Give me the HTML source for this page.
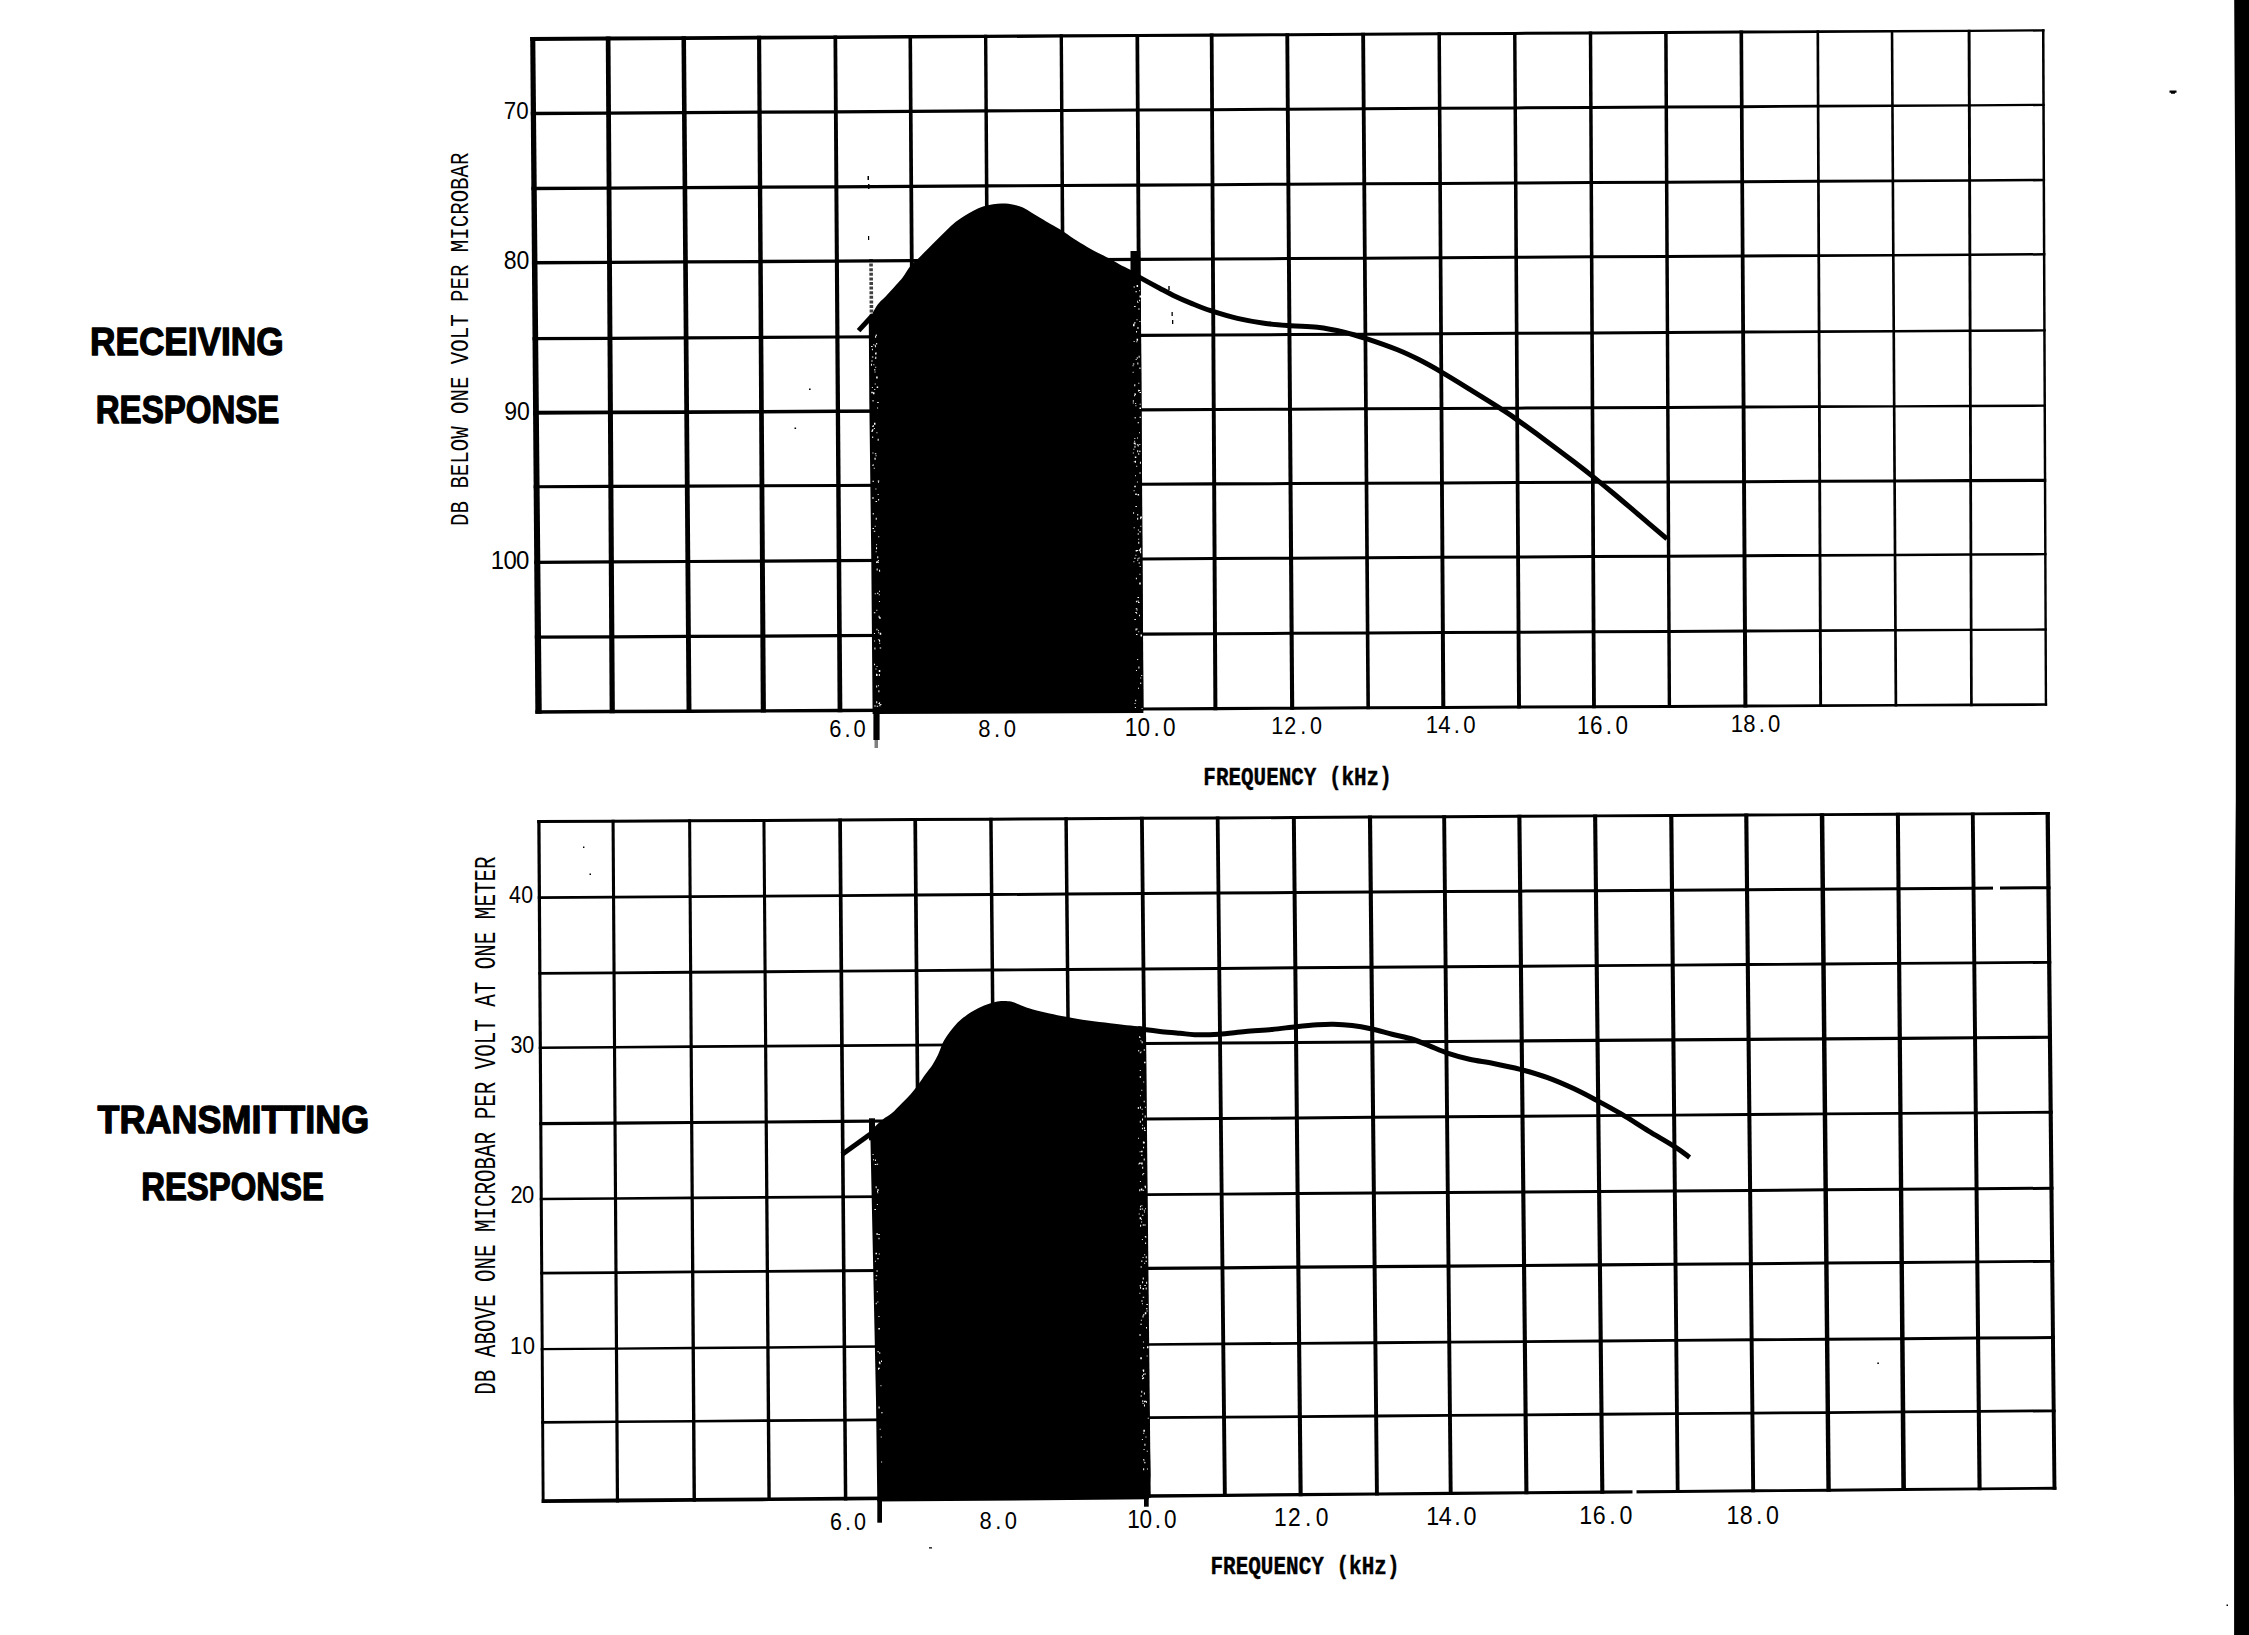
<!DOCTYPE html>
<html lang="en"><head><meta charset="utf-8"><title>Receiving and Transmitting Response</title>
<style>html,body{margin:0;padding:0;background:#fff;overflow:hidden}svg{display:block}text{fill:#000}</style>
</head><body>
<svg width="2249" height="1635" viewBox="0 0 2249 1635" role="img" aria-label="Receiving and transmitting response curves">
<rect x="0" y="0" width="2249" height="1635" fill="#fff"/>
<polygon id="edge-bar" fill="#000" points="2234.2,0 2235.3,200 2235.8,400 2235.8,800 2234.2,1000 2233.5,1200 2233.5,1400 2234.1,1500 2234.1,1635 2249,1635 2249,0"/>
<g id="grid-top" fill="#000" stroke="none">
<polygon points="530.2,36.91 535.28,36.91 541.75,713.76 535.37,713.76"/>
<polygon points="605.76,36.51 610.47,36.51 614.87,713.37 609.64,713.37"/>
<polygon points="681.45,36.14 685.99,36.14 691.49,712.96 686.56,712.96"/>
<polygon points="757.02,35.77 761.15,35.77 765.94,712.57 760.78,712.57"/>
<polygon points="833.46,35.39 837.18,35.39 842.36,712.16 837.6,712.16"/>
<polygon points="908.45,35.02 912.02,35.02 916.94,711.76 912.6,711.76"/>
<polygon points="983.98,34.65 987.33,34.65 992.19,711.35 987.93,711.35"/>
<polygon points="1059.6,34.28 1062.95,34.28 1067.68,710.95 1063.42,710.95"/>
<polygon points="1135.44,33.9 1139.15,33.9 1143.55,710.54 1139.32,710.54"/>
<polygon points="1209.78,33.54 1213.54,33.54 1217.42,710.15 1213.41,710.15"/>
<polygon points="1285.33,33.16 1289.18,33.16 1294.24,709.74 1290.12,709.74"/>
<polygon points="1361.21,32.74 1365.05,32.74 1369.98,709.36 1366.39,709.36"/>
<polygon points="1437.43,32.31 1440.94,32.31 1445.35,708.99 1441.32,708.99"/>
<polygon points="1513.05,31.89 1516.47,31.89 1521,708.62 1517.07,708.62"/>
<polygon points="1588.78,31.46 1592.21,31.46 1595.9,708.25 1592.08,708.25"/>
<polygon points="1664.13,31.04 1667.65,31.04 1671.09,707.88 1667.69,707.88"/>
<polygon points="1739.46,30.61 1743.09,30.61 1747.43,707.5 1743.41,707.5"/>
<polygon points="1816.47,30.35 1819.13,30.35 1822.11,707.04 1819.19,707.04"/>
<polygon points="1890.73,30.1 1893.3,30.1 1897.26,706.57 1894.55,706.57"/>
<polygon points="1967.61,29.68 1970.56,29.68 1972.76,706.19 1970.08,706.19"/>
<polygon points="2041.96,29.26 2044.48,29.26 2047.14,705.82 2044.74,705.82"/>
<polygon points="530.2,36.91 608.11,36.51 683.72,36.14 759.09,35.77 835.32,35.39 910.24,35.02 985.66,34.65 1061.28,34.28 1137.3,33.9 1211.66,33.54 1287.26,33.16 1363.13,32.74 1439.18,32.31 1514.76,31.89 1590.49,31.46 1665.89,31.04 1741.27,30.61 1817.8,30.35 1892.01,30.1 1969.09,29.68 2044.48,29.26 2044.48,31.56 1969.09,31.98 1892.01,32.43 1817.8,33.02 1741.27,33.61 1665.89,34.04 1590.49,34.46 1514.76,34.89 1439.18,35.31 1363.13,35.74 1287.26,36.17 1211.66,36.65 1137.3,37.12 1061.28,37.6 985.66,38.07 910.24,38.55 835.32,39.02 759.09,39.51 683.72,39.98 608.11,40.46 530.2,40.91"/>
<polygon points="530.77,111.86 608.57,111.44 684.31,111.02 759.56,110.61 835.84,110.19 910.74,109.78 986.14,109.37 1061.75,108.95 1137.75,108.54 1212.07,108.13 1287.8,107.71 1363.69,107.28 1439.64,106.85 1515.23,106.42 1590.88,105.99 1666.28,105.56 1741.73,105.13 1818.11,104.86 1892.44,104.6 1969.35,104.18 2044.77,103.76 2044.77,106.06 1969.35,106.48 1892.44,106.94 1818.11,107.53 1741.73,108.13 1666.28,108.56 1590.88,108.99 1515.23,109.42 1439.64,109.85 1363.69,110.28 1287.8,110.71 1212.07,111.16 1137.75,111.6 1061.75,112.05 986.14,112.49 910.74,112.94 835.84,113.38 759.56,113.83 684.31,114.28 608.57,114.72 530.77,115.16"/>
<polygon points="531.35,186.8 609.03,186.39 684.9,185.99 760.04,185.58 836.35,185.18 911.24,184.78 986.64,184.37 1062.23,183.97 1138.22,183.56 1212.49,183.16 1288.35,182.76 1364.25,182.33 1440.11,181.91 1515.71,181.48 1591.27,181.06 1666.67,180.63 1742.2,180.21 1818.43,179.87 1892.88,179.55 1969.61,179.13 2045.07,178.71 2045.07,181.31 1969.61,181.73 1892.88,182.17 1818.43,182.68 1742.2,183.21 1666.67,183.63 1591.27,184.06 1515.71,184.48 1440.11,184.91 1364.25,185.33 1288.35,185.76 1212.49,186.21 1138.22,186.65 1062.23,187.09 986.64,187.54 911.24,187.99 836.35,188.43 760.04,188.88 684.9,189.32 609.03,189.77 531.35,190.2"/>
<polygon points="531.92,261.1 609.49,260.69 685.48,260.28 760.51,259.88 836.87,259.47 911.74,259.07 987.12,258.67 1062.7,258.27 1138.67,257.86 1212.91,257.46 1288.89,257.06 1364.81,256.63 1440.56,256.2 1516.18,255.78 1591.65,255.35 1667.05,254.93 1742.65,254.5 1818.75,254.19 1893.31,253.9 1969.86,253.48 2045.36,253.06 2045.36,255.56 1969.86,255.98 1893.31,256.42 1818.75,256.96 1742.65,257.5 1667.05,257.93 1591.65,258.35 1516.18,258.78 1440.56,259.2 1364.81,259.63 1288.89,260.06 1212.91,260.51 1138.67,260.94 1062.7,261.39 987.12,261.84 911.74,262.28 836.87,262.72 760.51,263.18 685.48,263.62 609.49,264.07 531.92,264.5"/>
<polygon points="532.5,337.09 609.96,336.69 686.08,336.28 760.99,335.88 837.39,335.47 912.26,335.07 987.62,334.67 1063.18,334.26 1139.14,333.86 1213.33,333.46 1289.45,333.05 1365.38,332.64 1441.03,332.22 1516.66,331.81 1592.05,331.39 1667.45,330.98 1743.12,330.56 1819.07,330.29 1893.75,330.03 1970.13,329.62 2045.66,329.21 2045.66,331.61 1970.13,332.02 1893.75,332.45 1819.07,333 1743.12,333.56 1667.45,333.98 1592.05,334.39 1516.66,334.81 1441.03,335.22 1365.38,335.64 1289.45,336.05 1213.33,336.48 1139.14,336.9 1063.18,337.33 987.62,337.75 912.26,338.17 837.39,338.6 760.99,339.03 686.08,339.45 609.96,339.88 532.5,340.29"/>
<polygon points="533.07,410.86 610.41,410.53 686.67,410.21 761.46,409.9 837.91,409.58 912.76,409.27 988.1,408.96 1063.65,408.64 1139.6,408.33 1213.75,408.02 1289.99,407.7 1365.94,407.34 1441.49,406.98 1517.14,406.63 1592.44,406.27 1667.84,405.92 1743.58,405.56 1819.39,405.34 1894.18,405.14 1970.39,404.79 2045.96,404.44 2045.96,406.84 1970.39,407.19 1894.18,407.56 1819.39,408.06 1743.58,408.56 1667.84,408.92 1592.44,409.27 1517.14,409.63 1441.49,409.98 1365.94,410.34 1289.99,410.7 1213.75,411.1 1139.6,411.49 1063.65,411.89 988.1,412.29 912.76,412.69 837.91,413.09 761.46,413.49 686.67,413.88 610.41,414.29 533.07,414.66"/>
<polygon points="533.64,485.14 610.87,484.83 687.25,484.52 761.93,484.21 838.42,483.9 913.26,483.59 988.59,483.28 1064.12,482.98 1140.06,482.66 1214.16,482.36 1290.54,482.05 1366.5,481.73 1441.95,481.41 1517.61,481.09 1592.83,480.77 1668.22,480.45 1744.04,480.13 1819.7,479.76 1894.61,479.39 1970.64,479.07 2046.25,478.75 2046.25,481.95 1970.64,482.27 1894.61,482.59 1819.7,482.85 1744.04,483.13 1668.22,483.45 1592.83,483.77 1517.61,484.09 1441.95,484.41 1366.5,484.73 1290.54,485.05 1214.16,485.38 1140.06,485.71 1064.12,486.04 988.59,486.37 913.26,486.7 838.42,487.03 761.93,487.36 687.25,487.69 610.87,488.02 533.64,488.34"/>
<polygon points="534.22,560.68 611.33,560.28 687.84,559.88 762.41,559.48 838.94,559.08 913.76,558.69 989.08,558.29 1064.6,557.89 1140.52,557.49 1214.58,557.1 1291.08,556.69 1367.06,556.28 1442.41,555.87 1518.08,555.46 1593.21,555.06 1668.61,554.65 1744.5,554.24 1820.01,553.97 1895.04,553.71 1970.9,553.31 2046.54,552.91 2046.54,555.31 1970.9,555.71 1895.04,556.13 1820.01,556.68 1744.5,557.24 1668.61,557.65 1593.21,558.06 1518.08,558.46 1442.41,558.87 1367.06,559.28 1291.08,559.69 1214.58,560.12 1140.52,560.53 1064.6,560.95 989.08,561.37 913.76,561.79 838.94,562.21 762.41,562.63 687.84,563.05 611.33,563.47 534.22,563.88"/>
<polygon points="534.8,635.51 611.8,635.15 688.44,634.77 762.88,634.41 839.46,634.04 914.27,633.68 989.57,633.31 1065.07,632.94 1140.98,632.57 1215,632.21 1291.63,631.84 1367.62,631.46 1442.87,631.08 1518.56,630.69 1593.6,630.31 1669,629.93 1744.96,629.54 1820.33,629.31 1895.47,629.07 1971.16,628.7 2046.84,628.32 2046.84,630.72 1971.16,631.1 1895.47,631.49 1820.33,632.02 1744.96,632.54 1669,632.93 1593.6,633.31 1518.56,633.69 1442.87,634.08 1367.62,634.46 1291.63,634.84 1215,635.25 1140.98,635.64 1065.07,636.04 989.57,636.44 914.27,636.83 839.46,637.23 762.88,637.63 688.44,638.02 611.8,638.43 534.8,638.81"/>
<polygon points="535.37,710.16 612.26,709.81 689.02,709.46 763.36,709.13 839.98,708.78 914.77,708.44 990.06,708.1 1065.55,707.76 1141.44,707.42 1215.42,707.09 1292.18,706.74 1368.18,706.36 1443.33,705.99 1519.04,705.62 1593.99,705.25 1669.39,704.88 1745.42,704.51 1820.65,704.23 1895.9,703.96 1971.42,703.59 2047.14,703.22 2047.14,705.82 1971.42,706.19 1895.9,706.57 1820.65,707.04 1745.42,707.5 1669.39,707.88 1593.99,708.25 1519.04,708.62 1443.33,708.99 1368.18,709.36 1292.18,709.74 1215.42,710.15 1141.44,710.54 1065.55,710.95 990.06,711.35 914.77,711.76 839.98,712.16 763.36,712.57 689.02,712.96 612.26,713.37 535.37,713.76"/>
</g>
<g id="grid-bottom" fill="#000" stroke="none">
<polygon points="537.25,820.1 540.52,820.1 544.6,1503.12 541.72,1503.12"/>
<polygon points="611.52,819.69 614.6,819.69 619.07,1502.47 615.86,1502.47"/>
<polygon points="688.1,819.28 691.13,819.28 695.98,1501.77 692.56,1501.77"/>
<polygon points="762.41,818.88 765.44,818.88 770.81,1501.09 767.39,1501.09"/>
<polygon points="838.19,818.46 841.93,818.46 847.36,1500.4 843.87,1500.4"/>
<polygon points="913.33,818.06 917.05,818.06 922.93,1499.72 919.34,1499.72"/>
<polygon points="989.18,817.65 992.66,817.65 999.05,1499.03 995.44,1499.03"/>
<polygon points="1064.33,817.24 1067.81,817.24 1074.46,1498.34 1070.85,1498.34"/>
<polygon points="1139.99,816.83 1143.81,816.83 1150.72,1497.65 1147.02,1497.65"/>
<polygon points="1215.76,816.42 1219.54,816.42 1226.83,1496.96 1222.92,1496.96"/>
<polygon points="1291.83,816.01 1295.8,816.01 1302.7,1496.29 1298.6,1496.29"/>
<polygon points="1367.91,815.61 1372.06,815.61 1378.89,1495.62 1375.01,1495.62"/>
<polygon points="1442.2,815.22 1446.1,815.22 1452.67,1494.97 1448.77,1494.97"/>
<polygon points="1517.31,814.82 1521.41,814.82 1528.49,1494.3 1524.39,1494.3"/>
<polygon points="1593.08,814.42 1597.18,814.42 1604.39,1493.63 1600.29,1493.63"/>
<polygon points="1669.18,814.02 1673.35,814.02 1679.59,1492.97 1675.81,1492.97"/>
<polygon points="1744.19,813.62 1748.34,813.62 1755.16,1492.3 1751.27,1492.3"/>
<polygon points="1819.77,813.22 1824.29,813.22 1830.79,1491.64 1826.4,1491.64"/>
<polygon points="1895.87,812.82 1899.86,812.82 1905.97,1490.98 1901.34,1490.98"/>
<polygon points="1970.85,812.42 1974.7,812.42 1981.65,1490.31 1977.54,1490.31"/>
<polygon points="2045.54,812.02 2049.81,812.02 2056.43,1489.66 2052.54,1489.66"/>
<polygon points="537.25,820.1 613.06,819.69 689.62,819.28 763.93,818.88 840.06,818.46 915.19,818.06 990.92,817.65 1066.07,817.24 1141.9,816.83 1217.65,816.42 1293.81,816.01 1369.99,815.61 1444.15,815.22 1519.36,814.82 1595.13,814.42 1671.26,814.02 1746.27,813.62 1822.03,813.22 1897.86,812.82 1972.78,812.42 2049.81,812.02 2049.81,814.82 1972.78,815.23 1897.86,815.65 1822.03,816.07 1746.27,816.49 1671.26,816.91 1595.13,817.33 1519.36,817.75 1444.15,818.17 1369.99,818.58 1293.81,819 1217.65,819.42 1141.9,819.83 1066.07,820.24 990.92,820.65 915.19,821.06 840.06,821.46 763.93,821.88 689.62,822.28 613.06,822.69 537.25,823.1"/>
<polygon points="537.75,896.13 613.55,895.64 690.14,895.13 764.5,894.64 840.68,894.13 915.85,893.62 991.62,893.12 1066.8,892.62 1142.67,892.11 1218.45,891.61 1294.57,891.1 1370.76,890.61 1444.88,890.12 1520.14,889.63 1595.93,889.14 1671.97,888.64 1747.03,888.15 1822.75,887.65 1898.5,887.16 1973.53,886.67 2050.54,886.18 2050.54,889.18 1973.53,889.67 1898.5,890.16 1822.75,890.65 1747.03,891.15 1671.97,891.64 1595.93,892.14 1520.14,892.63 1444.88,893.12 1370.76,893.61 1294.57,894.1 1218.45,894.59 1142.67,895.08 1066.8,895.56 991.62,896.04 915.85,896.53 840.68,897 764.5,897.49 690.14,897.97 613.55,898.45 537.75,898.93"/>
<polygon points="538.25,971.96 614.04,971.41 690.66,970.84 765.08,970.29 841.3,969.72 916.51,969.16 992.33,968.6 1067.54,968.04 1143.45,967.47 1219.26,966.91 1295.33,966.35 1371.53,965.81 1445.61,965.28 1520.93,964.74 1596.73,964.19 1672.69,963.65 1747.8,963.11 1823.48,962.57 1899.14,962.03 1974.28,961.49 2051.27,960.95 2051.27,963.75 1974.28,964.3 1899.14,964.86 1823.48,965.42 1747.8,965.98 1672.69,966.54 1596.73,967.1 1520.93,967.67 1445.61,968.23 1371.53,968.78 1295.33,969.34 1219.26,969.9 1143.45,970.44 1067.54,970.98 992.33,971.52 916.51,972.06 841.3,972.6 765.08,973.14 690.66,973.67 614.04,974.22 538.25,974.76"/>
<polygon points="538.74,1046.44 614.53,1045.91 691.17,1045.36 765.65,1044.82 841.91,1044.27 917.16,1043.72 993.02,1043.17 1068.26,1042.63 1144.22,1042.08 1220.05,1041.53 1296.09,1040.99 1372.3,1040.45 1446.33,1039.92 1521.71,1039.39 1597.52,1038.85 1673.4,1038.32 1748.57,1037.79 1824.21,1037.25 1899.79,1036.72 1975.04,1036.18 2052,1035.66 2052,1038.86 1975.04,1039.37 1899.79,1039.88 1824.21,1040.4 1748.57,1040.92 1673.4,1041.43 1597.52,1041.94 1521.71,1042.46 1446.33,1042.97 1372.3,1043.48 1296.09,1044 1220.05,1044.51 1144.22,1045.01 1068.26,1045.52 993.02,1046.02 917.16,1046.52 841.91,1047.02 765.65,1047.53 691.17,1048.03 614.53,1048.54 538.74,1049.04"/>
<polygon points="539.24,1122.06 615.02,1121.5 691.69,1120.93 766.22,1120.38 842.53,1119.81 917.83,1119.26 993.73,1118.69 1068.99,1118.13 1144.99,1117.57 1220.86,1117.01 1296.85,1116.44 1373.08,1115.87 1447.07,1115.32 1522.5,1114.76 1598.33,1114.2 1674.12,1113.64 1749.35,1113.08 1824.94,1112.51 1900.43,1111.95 1975.79,1111.39 2052.74,1110.83 2052.74,1113.63 1975.79,1114.2 1900.43,1114.78 1824.94,1115.36 1749.35,1115.95 1674.12,1116.53 1598.33,1117.11 1522.5,1117.69 1447.07,1118.27 1373.08,1118.84 1296.85,1119.43 1220.86,1120.02 1144.99,1120.6 1068.99,1121.19 993.73,1121.77 917.83,1122.35 842.53,1122.94 766.22,1123.52 691.69,1124.1 615.02,1124.69 539.24,1125.26"/>
<polygon points="539.73,1197.69 615.51,1197.15 692.2,1196.58 766.8,1196.02 843.14,1195.45 918.49,1194.89 994.43,1194.32 1069.73,1193.76 1145.77,1193.2 1221.66,1192.63 1297.61,1192.08 1373.85,1191.54 1447.8,1191.02 1523.29,1190.48 1599.14,1189.95 1674.84,1189.41 1750.13,1188.88 1825.68,1188.34 1901.08,1187.81 1976.56,1187.27 2053.48,1186.74 2053.48,1189.74 1976.56,1190.27 1901.08,1190.81 1825.68,1191.34 1750.13,1191.88 1674.84,1192.41 1599.14,1192.95 1523.29,1193.48 1447.8,1194.02 1373.85,1194.54 1297.61,1195.08 1221.66,1195.61 1145.77,1196.12 1069.73,1196.63 994.43,1197.13 918.49,1197.64 843.14,1198.15 766.8,1198.66 692.2,1199.16 615.51,1199.68 539.73,1200.19"/>
<polygon points="540.22,1271.86 615.99,1271.26 692.71,1270.62 767.36,1269.99 843.75,1269.35 919.14,1268.72 995.12,1268.09 1070.44,1267.46 1146.53,1266.82 1222.45,1266.19 1298.35,1265.59 1374.61,1265.01 1448.52,1264.46 1524.06,1263.89 1599.92,1263.32 1675.54,1262.75 1750.88,1262.19 1826.39,1261.62 1901.71,1261.05 1977.3,1260.48 2054.2,1259.91 2054.2,1262.71 1977.3,1263.31 1901.71,1263.93 1826.39,1264.54 1750.88,1265.16 1675.54,1265.78 1599.92,1266.39 1524.06,1267.01 1448.52,1267.63 1374.61,1268.24 1298.35,1268.86 1222.45,1269.45 1146.53,1270.01 1070.44,1270.57 995.12,1271.12 919.14,1271.68 843.75,1272.23 767.36,1272.79 692.71,1273.34 615.99,1273.9 540.22,1274.46"/>
<polygon points="540.72,1348 616.48,1347.42 693.23,1346.8 767.94,1346.19 844.37,1345.57 919.8,1344.97 995.83,1344.35 1071.18,1343.74 1147.31,1343.13 1223.26,1342.51 1299.12,1341.91 1375.39,1341.31 1449.26,1340.74 1524.86,1340.14 1600.73,1339.55 1676.26,1338.96 1751.66,1338.36 1827.13,1337.77 1902.36,1337.18 1978.07,1336.59 2054.95,1336.01 2054.95,1339.01 1978.07,1339.58 1902.36,1340.15 1827.13,1340.72 1751.66,1341.3 1676.26,1341.87 1600.73,1342.44 1524.86,1343.01 1449.26,1343.59 1375.39,1344.15 1299.12,1344.72 1223.26,1345.29 1147.31,1345.85 1071.18,1346.41 995.83,1346.96 919.8,1347.52 844.37,1348.07 767.94,1348.63 693.23,1349.18 616.48,1349.75 540.72,1350.3"/>
<polygon points="541.2,1421.05 616.95,1420.47 693.73,1419.88 768.5,1419.29 844.97,1418.7 920.44,1418.11 996.52,1417.52 1071.89,1416.93 1148.07,1416.34 1224.04,1415.75 1299.86,1415.16 1376.15,1414.58 1449.97,1414.02 1525.63,1413.44 1601.51,1412.86 1676.96,1412.28 1752.42,1411.71 1827.84,1411.13 1902.99,1410.56 1978.81,1409.98 2055.67,1409.4 2055.67,1412.2 1978.81,1412.78 1902.99,1413.36 1827.84,1413.93 1752.42,1414.51 1676.96,1415.08 1601.51,1415.66 1525.63,1416.24 1449.97,1416.82 1376.15,1417.38 1299.86,1417.96 1224.04,1418.54 1148.07,1419.11 1071.89,1419.68 996.52,1420.24 920.44,1420.81 844.97,1421.38 768.5,1421.95 693.73,1422.51 616.95,1423.09 541.2,1423.65"/>
<polygon points="541.72,1499.22 617.46,1498.61 694.27,1497.99 769.1,1497.39 845.62,1496.78 921.13,1496.17 997.25,1495.56 1072.66,1494.96 1148.87,1494.34 1224.88,1493.73 1300.65,1493.11 1376.95,1492.48 1450.72,1491.87 1526.44,1491.24 1602.34,1490.62 1677.7,1489.99 1753.22,1489.37 1828.59,1488.74 1903.65,1488.12 1979.59,1487.49 2056.43,1486.86 2056.43,1489.66 1979.59,1490.31 1903.65,1490.98 1828.59,1491.64 1753.22,1492.3 1677.7,1492.97 1602.34,1493.63 1526.44,1494.3 1450.72,1494.97 1376.95,1495.62 1300.65,1496.29 1224.88,1496.96 1148.87,1497.65 1072.66,1498.34 997.25,1499.03 921.13,1499.72 845.62,1500.4 769.1,1501.09 694.27,1501.77 617.46,1502.47 541.72,1503.12"/>
</g>
<path id="fill-top" d="M868.8 321 C869.67 319.25 872.3 313.5 874 310.5 C875.7 307.5 876.83 305.58 879 303 C881.17 300.42 884.17 298 887 295 C889.83 292 893.33 288 896 285 C898.67 282 900.67 280.08 903 277 C905.33 273.92 907.5 269.53 910 266.5 C912.5 263.47 915 261.77 918 258.8 C921 255.83 924.8 251.92 928 248.7 C931.2 245.48 934.15 242.55 937.2 239.5 C940.25 236.45 943.25 233.3 946.3 230.4 C949.35 227.5 952.43 224.55 955.5 222.1 C958.57 219.65 961.63 217.62 964.7 215.7 C967.77 213.78 970.85 212.13 973.9 210.6 C976.95 209.07 979.8 207.57 983 206.5 C986.2 205.43 989.77 204.68 993.1 204.2 C996.43 203.72 999.55 203.52 1003 203.6 C1006.45 203.68 1010.48 204.07 1013.8 204.7 C1017.12 205.33 1019.85 206.03 1022.9 207.4 C1025.95 208.77 1029.03 211.07 1032.1 212.9 C1035.17 214.73 1038.23 216.57 1041.3 218.4 C1044.37 220.23 1046.98 221.83 1050.5 223.9 C1054.02 225.97 1058.58 228.35 1062.4 230.8 C1066.22 233.25 1069.27 235.92 1073.4 238.6 C1077.53 241.28 1082.62 244.3 1087.2 246.9 C1091.78 249.5 1097.08 252.22 1100.9 254.2 C1104.72 256.18 1107.03 257.12 1110.1 258.8 C1113.17 260.48 1115.93 262.47 1119.3 264.3 C1122.67 266.13 1127.25 268.2 1130.3 269.8 C1133.35 271.4 1135.88 272.97 1137.6 273.9 C1139.32 274.83 1140.1 275.15 1140.6 275.4 L1141 330 L1141.8 460 L1142.3 560 L1143.4 713 L872.6 714 L871.3 560 L869.3 400 L868.8 322 Z" fill="#000"/>
<rect x="1130.5" y="251" width="9.8" height="30" fill="#000"/>
<rect x="873.4" y="711" width="6.2" height="29" fill="#000"/>
<rect x="874.5" y="739" width="3.5" height="9" fill="#000" opacity="0.5"/>
<path d="M858.6 330.6 L873 315" stroke="#000" stroke-width="5" fill="none"/>
<path d="M871 259 L871.5 318" stroke="#000" stroke-width="3.6" stroke-dasharray="3 1.6" opacity="0.75" fill="none"/>
<path id="curve-top" d="M1134 274.5 C1135.08 275.07 1136.23 275.62 1140.5 277.9 C1144.77 280.18 1154.12 285.28 1159.6 288.2 C1165.08 291.12 1168 292.83 1173.4 295.4 C1178.8 297.97 1185.78 301.05 1192 303.6 C1198.22 306.15 1203.13 308.23 1210.7 310.7 C1218.27 313.17 1228.5 316.32 1237.4 318.4 C1246.3 320.48 1255.2 321.98 1264.1 323.2 C1273 324.42 1281.92 325.02 1290.8 325.7 C1299.68 326.38 1308.52 326.22 1317.4 327.3 C1326.28 328.38 1336.08 330.35 1344.1 332.2 C1352.12 334.05 1356.6 335.47 1365.5 338.4 C1374.4 341.33 1388.62 346.27 1397.5 349.8 C1406.38 353.33 1411.47 355.88 1418.8 359.6 C1426.13 363.32 1432.6 366.9 1441.5 372.1 C1450.4 377.3 1461.75 384.35 1472.2 390.8 C1482.65 397.25 1496.63 405.92 1504.2 410.8 C1511.77 415.68 1510.48 415 1517.6 420.1 C1524.72 425.2 1537.57 434.5 1546.9 441.4 C1556.23 448.3 1566.03 455.72 1573.6 461.5 C1581.17 467.28 1585.63 470.77 1592.3 476.1 C1598.97 481.43 1605.6 486.82 1613.6 493.5 C1621.6 500.18 1631.4 508.65 1640.3 516.2 C1649.2 523.75 1662.55 535.03 1667 538.8" fill="none" stroke="#000" stroke-width="5" stroke-linecap="butt" stroke-linejoin="round"/>
<path id="fill-bottom" d="M870.2 1133 C871.02 1131.92 873 1128.77 875.1 1126.5 C877.2 1124.23 880.03 1121.6 882.8 1119.4 C885.57 1117.2 888.57 1115.97 891.7 1113.3 C894.83 1110.63 898.48 1106.52 901.6 1103.4 C904.72 1100.28 907.65 1097.72 910.4 1094.6 C913.15 1091.48 915.53 1088.18 918.1 1084.7 C920.67 1081.22 923.42 1077 925.8 1073.7 C928.18 1070.4 930.38 1068.02 932.4 1064.9 C934.42 1061.78 936.25 1058.5 937.9 1055 C939.55 1051.5 940.83 1047.03 942.3 1043.9 C943.77 1040.77 944.87 1038.95 946.7 1036.2 C948.53 1033.45 950.73 1030.33 953.3 1027.4 C955.87 1024.47 958.8 1021.35 962.1 1018.6 C965.4 1015.85 969.43 1013.1 973.1 1010.9 C976.77 1008.7 980.43 1006.9 984.1 1005.4 C987.77 1003.9 991.95 1002.65 995.1 1001.9 C998.25 1001.15 1000.35 1000.95 1003 1000.9 C1005.65 1000.85 1007.83 1000.8 1011 1001.6 C1014.17 1002.4 1018.33 1004.38 1022 1005.7 C1025.67 1007.02 1028.42 1008.22 1033 1009.5 C1037.58 1010.78 1043.98 1012.2 1049.5 1013.4 C1055.02 1014.6 1059.67 1015.5 1066.1 1016.7 C1072.53 1017.9 1080.77 1019.5 1088.1 1020.6 C1095.43 1021.7 1103.68 1022.53 1110.1 1023.3 C1116.52 1024.07 1121.47 1024.68 1126.6 1025.2 C1131.73 1025.72 1137.67 1026.07 1140.9 1026.4 C1144.13 1026.73 1145.15 1027.07 1146 1027.2 L1146.3 1100 L1149 1400 L1150.5 1475 L1148.8 1499.3 L877.3 1501.6 L876 1400 L870.4 1137 Z" fill="#000"/>
<rect x="869" y="1118.3" width="6" height="22" fill="#000"/>
<rect x="877.3" y="1499" width="4.7" height="23.7" fill="#000"/>
<rect x="1144" y="1497" width="4.7" height="9.7" fill="#000"/>
<path d="M842 1154.6 L871.5 1133.2" stroke="#000" stroke-width="5" fill="none"/>
<path id="curve-bottom" d="M1138 1028.4 C1139.4 1028.63 1142.73 1029.3 1146.4 1029.8 C1150.07 1030.3 1154.4 1030.83 1160 1031.4 C1165.6 1031.97 1174.22 1032.65 1180 1033.2 C1185.78 1033.75 1188.25 1034.53 1194.7 1034.7 C1201.15 1034.87 1210.25 1034.73 1218.7 1034.2 C1227.15 1033.67 1236.5 1032.3 1245.4 1031.5 C1254.3 1030.7 1263.65 1030.2 1272.1 1029.4 C1280.55 1028.6 1288.55 1027.47 1296.1 1026.7 C1303.65 1025.93 1311.18 1025.2 1317.4 1024.8 C1323.62 1024.4 1327.62 1024.17 1333.4 1024.3 C1339.18 1024.43 1345.87 1024.85 1352.1 1025.6 C1358.33 1026.35 1364.13 1027.37 1370.8 1028.8 C1377.47 1030.23 1384.98 1032.42 1392.1 1034.2 C1399.22 1035.98 1407.27 1037.55 1413.5 1039.5 C1419.73 1041.45 1423.72 1043.58 1429.5 1045.9 C1435.28 1048.22 1441.53 1051.17 1448.2 1053.4 C1454.87 1055.63 1461.95 1057.62 1469.5 1059.3 C1477.05 1060.98 1485.05 1061.82 1493.5 1063.5 C1501.95 1065.18 1511.3 1067.08 1520.2 1069.4 C1529.1 1071.72 1538 1074.2 1546.9 1077.4 C1555.8 1080.6 1565.15 1084.68 1573.6 1088.6 C1582.05 1092.52 1589.6 1096.63 1597.6 1100.9 C1605.6 1105.17 1613.15 1109.22 1621.6 1114.2 C1630.05 1119.18 1639.4 1125.37 1648.3 1130.8 C1657.2 1136.23 1668.12 1142.37 1675 1146.8 C1681.88 1151.23 1687.17 1155.63 1689.6 1157.4" fill="none" stroke="#000" stroke-width="5" stroke-linecap="butt" stroke-linejoin="round"/>
<g id="titles">
<text transform="translate(89.99 354.65) scale(0.9204 1)" font-family="'Liberation Sans', sans-serif" font-weight="bold" font-size="38.26" stroke="#000" stroke-width="1.3" stroke-linejoin="round" xml:space="preserve">RECEIVING</text>
<text transform="translate(95.74 422.85) scale(0.8513 1)" font-family="'Liberation Sans', sans-serif" font-weight="bold" font-size="38.84" stroke="#000" stroke-width="1.3" stroke-linejoin="round" xml:space="preserve">RESPONSE</text>
<text transform="translate(97.59 1132.95) scale(0.9225 1)" font-family="'Liberation Sans', sans-serif" font-weight="bold" font-size="38.99" stroke="#000" stroke-width="1.3" stroke-linejoin="round" xml:space="preserve">TRANSMITTING</text>
<text transform="translate(141.15 1200.15) scale(0.8631 1)" font-family="'Liberation Sans', sans-serif" font-weight="bold" font-size="38.12" stroke="#000" stroke-width="1.3" stroke-linejoin="round" xml:space="preserve">RESPONSE</text>
</g>
<g id="axis-titles">
<text transform="translate(467.5 525.96) rotate(-90) scale(0.8202 1)" font-family="'Liberation Mono', monospace" font-weight="normal" font-size="25.3" xml:space="preserve">DB BELOW ONE VOLT PER MICROBAR</text>
<text transform="translate(494.9 1394.67) rotate(-90) scale(0.7283 1)" font-family="'Liberation Mono', monospace" font-weight="normal" font-size="28.64" xml:space="preserve">DB ABOVE ONE MICROBAR PER VOLT AT ONE METER</text>
<text transform="translate(1203.33 785) scale(0.8225 1)" font-family="'Liberation Mono', monospace" font-weight="bold" font-size="25.45" stroke="#000" stroke-width="0.4" stroke-linejoin="round" xml:space="preserve">FREQUENCY (kHz)</text>
<text transform="translate(1210.42 1574.4) scale(0.8155 1)" font-family="'Liberation Mono', monospace" font-weight="bold" font-size="25.76" stroke="#000" stroke-width="0.4" stroke-linejoin="round" xml:space="preserve">FREQUENCY (kHz)</text>
</g>
<g id="ticks">
<text transform="translate(0 118.93) scale(0.900 1)" x="566.65 580.44" y="0" text-anchor="middle" font-family="'Liberation Sans', sans-serif" font-size="24.79">70</text>
<text transform="translate(0 268.62) scale(0.900 1)" x="566.84 580.9" y="0" text-anchor="middle" font-family="'Liberation Sans', sans-serif" font-size="25.64">80</text>
<text transform="translate(0 419.82) scale(0.900 1)" x="567.51 581.68" y="0" text-anchor="middle" font-family="'Liberation Sans', sans-serif" font-size="25.64">90</text>
<text transform="translate(0 569.32) scale(0.900 1)" x="552.83 566.74 580.66" y="0" text-anchor="middle" font-family="'Liberation Sans', sans-serif" font-size="26.64">100</text>
<text transform="translate(0 902.53) scale(0.900 1)" x="572.19 585.83" y="0" text-anchor="middle" font-family="'Liberation Sans', sans-serif" font-size="23.64">40</text>
<text transform="translate(0 1053.13) scale(0.900 1)" x="573.91 586.87" y="0" text-anchor="middle" font-family="'Liberation Sans', sans-serif" font-size="23.93">30</text>
<text transform="translate(0 1202.53) scale(0.900 1)" x="573.99 586.88" y="0" text-anchor="middle" font-family="'Liberation Sans', sans-serif" font-size="24.36">20</text>
<text transform="translate(0 1354.13) scale(0.900 1)" x="573.51 587.62" y="0" text-anchor="middle" font-family="'Liberation Sans', sans-serif" font-size="24.5">10</text>
<text transform="translate(0 737.13) scale(0.900 1)" x="928.1 941.66 955.21" y="0" text-anchor="middle" font-family="'Liberation Sans', sans-serif" font-size="24.36">6.0</text>
<text transform="translate(0 736.63) scale(0.900 1)" x="1093.69 1107.93 1122.18" y="0" text-anchor="middle" font-family="'Liberation Sans', sans-serif" font-size="24.5">8.0</text>
<text transform="translate(0 735.82) scale(0.900 1)" x="1256.63 1270.84 1285.05 1299.26" y="0" text-anchor="middle" font-family="'Liberation Sans', sans-serif" font-size="25.07">10.0</text>
<text transform="translate(0 733.73) scale(0.900 1)" x="1419.17 1433.55 1447.93 1462.31" y="0" text-anchor="middle" font-family="'Liberation Sans', sans-serif" font-size="23.93">12.0</text>
<text transform="translate(0 732.83) scale(0.900 1)" x="1590.98 1604.85 1618.72 1632.59" y="0" text-anchor="middle" font-family="'Liberation Sans', sans-serif" font-size="24.64">14.0</text>
<text transform="translate(0 733.63) scale(0.900 1)" x="1759.26 1773.5 1787.73 1801.96" y="0" text-anchor="middle" font-family="'Liberation Sans', sans-serif" font-size="24.93">16.0</text>
<text transform="translate(0 732.13) scale(0.900 1)" x="1929.84 1943.66 1957.47 1971.29" y="0" text-anchor="middle" font-family="'Liberation Sans', sans-serif" font-size="24.5">18.0</text>
<text transform="translate(0 1529.73) scale(0.900 1)" x="928.89 942.16 955.42" y="0" text-anchor="middle" font-family="'Liberation Sans', sans-serif" font-size="23.93">6.0</text>
<text transform="translate(0 1528.73) scale(0.900 1)" x="1095.1 1109.1 1123.1" y="0" text-anchor="middle" font-family="'Liberation Sans', sans-serif" font-size="24.36">8.0</text>
<text transform="translate(0 1527.82) scale(0.900 1)" x="1259.51 1273.1 1286.68 1300.26" y="0" text-anchor="middle" font-family="'Liberation Sans', sans-serif" font-size="25.07">10.0</text>
<text transform="translate(0 1525.62) scale(0.900 1)" x="1422.57 1438.04 1453.5 1468.97" y="0" text-anchor="middle" font-family="'Liberation Sans', sans-serif" font-size="25.36">12.0</text>
<text transform="translate(0 1525.12) scale(0.900 1)" x="1591.91 1605.7 1619.49 1633.28" y="0" text-anchor="middle" font-family="'Liberation Sans', sans-serif" font-size="25.93">14.0</text>
<text transform="translate(0 1524.22) scale(0.900 1)" x="1761.99 1776.84 1791.69 1806.53" y="0" text-anchor="middle" font-family="'Liberation Sans', sans-serif" font-size="25.79">16.0</text>
<text transform="translate(0 1523.62) scale(0.900 1)" x="1925.43 1940.1 1954.76 1969.42" y="0" text-anchor="middle" font-family="'Liberation Sans', sans-serif" font-size="25.79">18.0</text>
</g>
<path id="fill-specks" d="M872.44 452.41h1v1h-1zM874.1 640.44h1v1h-1zM873.26 344.17h1v1h-1zM873.33 364.29h1v1h-1zM876.66 568.38h1v2h-1zM871.91 348.74h1v1.5h-1zM875.42 488.43h1v1h-1zM874.31 368.96h1v1.5h-1zM875.22 366.83h1v1h-1zM875.73 517.64h1v2h-1zM875.64 551.34h1v1h-1zM877.94 630.28h1v1h-1zM876.05 547.13h1v2h-1zM877.66 438.84h1v2h-1zM872.97 392.36h1.5v2h-1.5zM874.79 344.82h1v1.5h-1zM876.94 592.82h1.5v1h-1.5zM879.68 647.51h1.5v1h-1.5zM875.06 352.93h1.5v1.5h-1.5zM878.91 600.89h1v1h-1zM876.18 685.57h1v2h-1zM875.49 352.28h1v1h-1zM877.76 480.41h1.5v1h-1.5zM873.37 392.89h1v1h-1zM879.09 639.69h1v2h-1zM878.45 702.88h1.5v1h-1.5zM871.86 387.05h1v1h-1zM875.78 334.56h1v1.5h-1zM872.2 436.57h1v1.5h-1zM878.4 690.27h1v2h-1zM878.8 670.02h1.5v2h-1.5zM872.48 480.81h1.5v1h-1.5zM877.23 402.05h1.5v1h-1.5zM874.52 371.55h1v1h-1zM876.09 544.24h1v1h-1zM871.87 356.58h1.5v1h-1.5zM879.09 569.81h1v2h-1zM876.17 376.43h1.5v2h-1.5zM872.77 512.89h1v1.5h-1zM876.33 609.85h1v1h-1zM877.08 407.57h1v1h-1zM879 590.85h1v1h-1zM874.78 593.16h1v1h-1zM873.05 464.45h1v1h-1zM877.94 561.8h1v1h-1zM878.28 639.33h1v1h-1zM874.68 525.67h1v1h-1zM876.45 628.66h1v1.5h-1zM878.13 499.05h1v1.5h-1zM871.21 360.44h1.5v1h-1.5zM874.66 457.66h1v2h-1zM876 673.68h1v1h-1zM878.85 673.9h1v2h-1zM876.52 666.05h1v1h-1zM879.73 632.71h1.5v2h-1.5zM877.98 481.72h1v1h-1zM874.21 705.4h1.5v1h-1.5zM876.68 561.17h1.5v1.5h-1.5zM874.29 388.93h1v1h-1zM878.13 632.16h1v1h-1zM877.64 493.98h1v1h-1zM873.02 425.19h1v1.5h-1zM873.87 428.04h1v1h-1zM876.07 673.99h1.5v2h-1.5zM879.21 642.66h1v1h-1zM872.52 527.89h1.5v1h-1.5zM877.84 560.03h1v1h-1zM874.72 383.51h1v1h-1zM874.83 453.22h1.5v1h-1.5zM874.05 663.86h1v1.5h-1zM871.09 345.95h1.5v1h-1.5zM879.22 617.28h1.5v1.5h-1.5zM876.1 561.54h1v1.5h-1zM875.53 500.99h1.5v1h-1.5zM878.79 594.3h1v1h-1zM874.44 647.52h1v2h-1zM872.49 497.12h1v2h-1zM874.88 357.64h1v1h-1zM878.05 685.13h1v1h-1zM872.01 425.67h1.5v1h-1.5zM873.86 612.25h1.5v1h-1.5zM879.44 704.17h1v2h-1zM876.66 705.76h1.5v1h-1.5zM872.21 464.8h1v1h-1zM874.5 457.76h1v2h-1zM875.55 455.31h1v1h-1zM879.13 702.36h1v1h-1zM871.44 430.38h1v1.5h-1zM878.6 615.68h1v2h-1zM876.69 386.46h1.5v1.5h-1.5zM870.94 363.82h1v2h-1zM875.47 668.42h1v1h-1zM873.96 633.02h1v1h-1zM871.97 429.96h1v1.5h-1zM876.75 705.85h1v1h-1zM875.07 346.33h1v1h-1zM872.34 429h1v1.5h-1zM873.77 530.75h1.5v1h-1.5zM876.43 432.26h1v1h-1zM875.15 335.8h1v2h-1zM873.99 422.87h1.5v2h-1.5zM878.28 536.35h1v1h-1zM876.23 701.36h1v2h-1zM880.41 704.01h1v1h-1zM875.34 356.73h1v2h-1zM871.3 391.71h1.5v1.5h-1.5zM877.26 556.34h1v2h-1zM872.55 400.06h1v1.5h-1zM873.78 467.65h1v1h-1zM876.17 343.02h1v1.5h-1zM1137.35 362.39h1v2h-1zM1135.13 402.99h1v1h-1zM1133.57 323.43h1v2h-1zM1137.71 533.22h1v1.5h-1zM1140.12 551.35h1v2h-1zM1135.74 608.3h1.5v1h-1.5zM1135.42 405.21h1v1h-1zM1135.97 633.91h1.5v1h-1.5zM1135.94 669.88h1v1h-1zM1139.37 320.99h1v1h-1zM1136.84 444.31h1v1h-1zM1135.64 549.89h1.5v1.5h-1.5zM1133.55 286.4h1v1h-1zM1137.54 600.44h1v1.5h-1zM1134.29 384.31h1v2h-1zM1137.6 493.94h1.5v1.5h-1.5zM1136.53 609.43h1v1h-1zM1138.21 538.68h1v1h-1zM1139.09 290.27h1v1h-1zM1135.86 577.79h1v1.5h-1zM1136.91 481.55h1v1h-1zM1139.46 416.84h1.5v1h-1.5zM1139.49 407.5h1.5v1.5h-1.5zM1133.38 448.64h1v1h-1zM1139.59 530.96h1v1.5h-1zM1133.62 341.09h1v1h-1zM1139.23 582.51h1.5v2h-1.5zM1139.54 295.5h1.5v2h-1.5zM1134.83 456.49h1.5v1.5h-1.5zM1139.32 444.09h1v1h-1zM1137.6 422.28h1.5v1h-1.5zM1140.21 682.57h1v1.5h-1zM1139.51 392.11h1.5v1h-1.5zM1136.99 437.58h1v1h-1zM1139.66 403.71h1v1h-1zM1138 390.46h1v1h-1zM1135.29 612.06h1.5v1h-1.5zM1136.56 628.46h1v1h-1zM1134.12 305.93h1.5v1h-1.5zM1138.64 557.62h1v1h-1zM1136.73 357.23h1v1.5h-1zM1134.46 393.18h1v2h-1zM1138.56 562.49h1.5v1h-1.5zM1138.62 355.78h1v2h-1zM1137.19 517.81h1v2h-1zM1136.22 465.8h1v1h-1zM1135.68 358.9h1v1h-1zM1134.14 440.79h1v1h-1zM1138.01 602.11h1.5v1h-1.5zM1137.69 444.41h1v2h-1zM1132.79 402.39h1v1h-1zM1132.97 324.17h1.5v2h-1.5zM1137.55 558.17h1v1h-1zM1136.57 338.83h1.5v2h-1.5zM1136.59 285.08h1.5v2h-1.5zM1139.17 390.1h1v1h-1zM1135.41 505.96h1.5v1h-1.5zM1140.29 518.28h1v1h-1zM1140.35 525.85h1v1h-1zM1136.79 550h1.5v1h-1.5zM1137.46 327.07h1v2h-1zM1134.08 395.35h1v1h-1zM1133.09 512.35h1v1.5h-1zM1134.16 557.66h1.5v1h-1.5zM1140.36 516.38h1.5v1.5h-1.5zM1138.17 308.4h1.5v1h-1.5zM1135 393.82h1v1h-1zM1135.25 493.52h1.5v1.5h-1.5zM1139.41 573.73h1v1h-1zM1132.63 371.81h1v1h-1zM1138.3 382.63h1v1h-1zM1138 687.67h1v1h-1zM1133.62 490.18h1v1h-1zM1141.22 674.97h1v1h-1zM1134.98 460.71h1v2h-1zM1135.04 475.2h1v1h-1zM1134.87 706.96h1v1h-1zM1132.85 363.47h1.5v1h-1.5zM1134.67 416.9h1v1.5h-1zM1139.54 472.15h1v1.5h-1zM1136.52 319.16h1v1h-1zM1134.47 445.79h1v2h-1zM1134.4 322.12h1v1.5h-1zM1137.22 514.07h1v1.5h-1zM1137.51 596.89h1.5v1h-1.5zM1135.54 628.4h1v2h-1zM1139.12 299.74h1v1.5h-1zM1139.42 367.46h1v1.5h-1zM1132.85 400.19h1v1.5h-1zM1135.92 600.74h1v1.5h-1zM1133.86 286.6h1v1h-1zM1140.53 634.41h1.5v2h-1.5zM1134.37 619.08h1.5v1h-1.5zM1140.27 677.59h1v1h-1zM1138.25 541.87h1v2h-1zM1134.34 438.07h1v1h-1zM1139.06 450.68h1.5v1h-1.5zM1137.19 559.76h1v1h-1zM1135.18 699.65h1v1.5h-1zM1139.18 549.21h1.5v2h-1.5zM1134.54 703.11h1v1h-1zM1136.32 341.23h1v1h-1zM1138.99 614.83h1v1.5h-1zM1134.69 442.77h1v2h-1zM1138.15 389.66h1v1.5h-1zM1137.17 659h1v1h-1zM1132.82 452.54h1v1h-1zM1133.38 561.36h1v1h-1zM1134.29 485.82h1.5v1.5h-1.5zM1137.4 302.07h1v1h-1zM1132.58 365.19h1v1h-1zM1133.73 442.46h1.5v1.5h-1.5zM1136.19 612.82h1v1h-1zM1135.45 554.64h1v1h-1zM1137.04 300.84h1v1h-1zM1141.58 707.95h1v1h-1zM1138.25 631.37h1v1h-1zM1140.15 547.69h1v2h-1zM1140.11 516.82h1v2h-1zM1139.68 565.88h1v1h-1zM1138.24 453.26h1v1.5h-1zM1139.92 461.75h1v2h-1zM1133.82 461.16h1v1h-1zM1137.22 450.28h1v2h-1zM1138.39 666.39h1v2h-1zM1137.91 529.41h1v1h-1zM1135.41 291.27h1.5v1h-1.5zM1133.68 527.32h1v1h-1zM1138.96 432.18h1v1h-1zM1136.05 331.02h1v1.5h-1zM877.26 1189.33h1.5v1.5h-1.5zM876.64 1163.68h1.5v1h-1.5zM881.09 1461.48h1v1h-1zM879.47 1362.37h1v2h-1zM874.42 1209.04h1.5v1h-1.5zM875.48 1279.25h1v1h-1zM874.91 1159.38h1v1.5h-1zM875.65 1186.21h1v2h-1zM875.49 1252.87h1.5v1.5h-1.5zM877.37 1301.38h1v1h-1zM878.89 1361.61h1v2h-1zM881.17 1412.25h1.5v1h-1.5zM879.67 1428.69h1v1h-1zM876.39 1270.5h1.5v1h-1.5zM872.96 1159.23h1v1h-1zM874.74 1163.99h1.5v1h-1.5zM872.56 1154.05h1v1h-1zM877.04 1191.07h1v1h-1zM880.43 1385.15h1v1h-1zM880.72 1436.56h1v1h-1zM877.24 1258.34h1.5v1h-1.5zM878.3 1233.96h1.5v1h-1.5zM879.25 1352.16h1v1.5h-1zM875.74 1275.29h1.5v1h-1.5zM878.07 1367.8h1v2h-1zM876.86 1204.06h1v1h-1zM878.43 1367.71h1.5v1h-1.5zM876.36 1233.21h1.5v1.5h-1.5zM878.5 1237.66h1v1.5h-1zM874.9 1260.79h1v1h-1zM880.97 1360.38h1v1.5h-1zM878.73 1253.53h1v1h-1zM878.58 1406.49h1v2h-1zM876.82 1291.19h1v1h-1zM878.47 1315.94h1v1h-1zM875.03 1164.04h1v1h-1zM878.37 1328.08h1.5v1.5h-1.5zM877.38 1351.18h1.5v1h-1.5zM877.29 1192.16h1v1h-1zM875.72 1302.8h1v1.5h-1zM1143.81 1209.85h1v1h-1zM1142.52 1315.55h1v2h-1zM1142.69 1296.82h1.5v1h-1.5zM1144.86 1106.82h1v1h-1zM1144.02 1211.61h1v1h-1zM1140.42 1040.37h1v1h-1zM1141.95 1214.73h1.5v1h-1.5zM1145.73 1256.23h1v2h-1zM1146.97 1346.2h1.5v2h-1.5zM1139.76 1070.01h1v1h-1zM1146.91 1468.53h1v1h-1zM1139.91 1180.95h1v1h-1zM1141.1 1150.7h1.5v1.5h-1.5zM1138.41 1163.59h1v1h-1zM1147.74 1417.82h1v1h-1zM1146 1401.15h1v1.5h-1zM1142.05 1118.49h1v2h-1zM1143.37 1429.79h1.5v2h-1.5zM1142.27 1400.27h1v2h-1zM1146.76 1450.73h1v1h-1zM1141.36 1205.33h1v1h-1zM1143.75 1049.32h1v1.5h-1zM1143.45 1460.17h1v1h-1zM1139.95 1095.2h1v1h-1zM1146.61 1355.5h1v1h-1zM1141.27 1390.64h1v2h-1zM1143.18 1081.6h1v1h-1zM1138.23 1049.98h1v1.5h-1zM1145.09 1242.55h1v1.5h-1zM1142.29 1173.83h1v1.5h-1zM1143.1 1146.67h1v1.5h-1zM1142.71 1369.62h1.5v1.5h-1.5zM1146.4 1303.95h1.5v1h-1.5zM1140.13 1224.86h1v2h-1zM1142.94 1341.53h1v1h-1zM1144.31 1284.93h1.5v1h-1.5zM1144.1 1262.75h1v1h-1zM1144.86 1186.29h1v2h-1zM1139.36 1292.76h1v1h-1zM1143.72 1158.42h1v2h-1zM1137.82 1107.12h1v2h-1zM1142.07 1377.74h1v1.5h-1zM1142.6 1189.69h1.5v1h-1.5zM1141.02 1218.63h1v1h-1zM1142.19 1166.87h1v2h-1zM1144.02 1462.35h1.5v1h-1.5zM1140.64 1266.22h1v1.5h-1zM1142.58 1287.99h1.5v1.5h-1.5zM1141.59 1108.75h1v1h-1zM1141.29 1089.83h1v1h-1zM1139.6 1151.36h1v1h-1zM1143.26 1459.02h1v1h-1zM1137.97 1137.75h1v1h-1zM1139.93 1106.6h1v2h-1zM1143.69 1100.67h1v1.5h-1zM1144.45 1224.19h1v1.5h-1zM1142.11 1124.8h1v1h-1zM1139.84 1208.57h1v1.5h-1zM1144.97 1236.53h1.5v1h-1.5zM1140.31 1357.31h1.5v2h-1.5zM1142.55 1403.01h1v1h-1zM1143.32 1314.07h1v1.5h-1zM1145.94 1308.3h1.5v1h-1.5zM1141.93 1375.33h1v1.5h-1zM1143.97 1404.51h1v2h-1zM1141.29 1260.44h1v1.5h-1zM1144.35 1373.51h1.5v1h-1.5zM1140.52 1051.59h1v1h-1zM1145.49 1260.86h1.5v1h-1.5zM1143.18 1347.02h1v1.5h-1zM1138.71 1213.5h1v1h-1zM1140.03 1205.73h1v1.5h-1zM1144.82 1312.34h1.5v2h-1.5zM1144.08 1061.75h1.5v1.5h-1.5zM1145.67 1287.38h1v2h-1zM1144.42 1443.87h1v2h-1zM1144.79 1236.02h1v1h-1zM1141.84 1239.08h1v1h-1zM1140.81 1188.61h1.5v2h-1.5zM1143.17 1468.32h1v2h-1zM1139.22 1189.31h1v2h-1zM1139.53 1334.04h1v2h-1zM1139.12 1036.17h1v1.5h-1zM1142.91 1141.56h1.5v2h-1.5zM1141.11 1221.39h1v1h-1zM1141.87 1439h1v1h-1zM1140.66 1395.14h1v1.5h-1zM1146.58 1310.43h1v1h-1zM1143.56 1449.02h1v1h-1zM1140.07 1286.64h1v2h-1zM1144.43 1185.7h1.5v1h-1.5zM1141.44 1300.14h1v1.5h-1zM1139.79 1120.86h1v2h-1zM1145.97 1326.98h1v1.5h-1zM1139.65 1217.28h1.5v2h-1.5zM1142.76 1277.38h1v2h-1zM1143.95 1142.26h1v1h-1zM1144 1400.73h1.5v1.5h-1.5zM1144.7 1400.65h1.5v1h-1.5zM1142.22 1113.53h1v1h-1zM1141.48 1300.21h1v1h-1zM1142.58 1257.12h1v1h-1zM1141.93 1127.81h1v1.5h-1zM1139.76 1076.09h1v2h-1zM1143.11 1373.66h1v1.5h-1zM1142.75 1224.31h1v1.5h-1zM1139.15 1162.4h1.5v1.5h-1.5zM1144.15 1254.13h1v1h-1zM1140.84 1319.73h1v1h-1zM1143.21 1172.94h1v1h-1zM1141.62 1208.51h1.5v1h-1.5zM1144.96 1208.34h1v1h-1zM1143.87 1392.55h1v2h-1zM1141.93 1303.26h1v1h-1zM1139.85 1052.17h1v1h-1zM1140.29 1323.67h1.5v1h-1.5zM1143.23 1432.63h1v1h-1zM1143.08 1377.14h1v1.5h-1zM1144.68 1115.38h1v2h-1zM1142.1 1281.35h1v2h-1zM1146.14 1281.87h1v2h-1zM1139.58 1285.26h1.5v1h-1.5zM1141.65 1041.15h1v2h-1zM1143.11 1369.9h1v2h-1zM1143.91 1127.34h1v2h-1zM1139.41 1037.08h1v1h-1zM1144.16 1129.94h1.5v1h-1.5zM1141.03 1154.82h1.5v1h-1.5zM1145.48 1436.42h1v1h-1zM1141.18 1162.52h1.5v2h-1.5z" fill="#fff"/>
<path id="specks" d="M2169.5 90.5h7v2.2h-7zM2171 92h4v1.8h-4zM929 1547.3h3v1.2h-3zM867.5 176h1.5v4h-1.5zM868 184h1.5v5h-1.5zM868 236h1.2v4h-1.2zM1168.3 286h1.4v4h-1.4zM1171.5 312h1.3v4h-1.3zM1172 320h1.3v4h-1.3zM809 388.5h1.6v1.6h-1.6zM794.5 427.5h1.6v1.4h-1.6zM1877.3 1362.4h1.6v1.6h-1.6zM2226.5 1604.5h1.5v1.5h-1.5zM583 846.5h1.4v1.4h-1.4zM589.5 873.5h1.5v1.5h-1.5z" fill="#000"/>
<path id="line-gaps" d="M1993 884h7v8h-7zM1632.5 1489h4v7h-4z" fill="#fff"/>
</svg>
</body></html>
